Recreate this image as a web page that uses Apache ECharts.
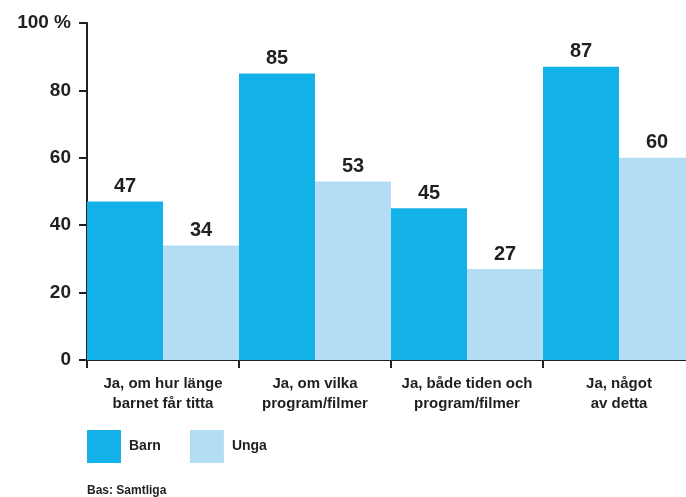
<!DOCTYPE html>
<html>
<head>
<meta charset="utf-8">
<script src="https://cdn.jsdelivr.net/npm/echarts@6/dist/echarts.min.js"></script>
<style>
  html, body { margin: 0; padding: 0; background: #fff; overflow: hidden; }
  /* chart runs a few px past the window edge, as in the original */
  #main { width: 695px; height: 497px; }
</style>
</head>
<body>
<div id="main"></div>
<script>
const categories = [
  "Ja, om hur länge\nbarnet får titta",
  "Ja, om vilka\nprogram/filmer",
  "Ja, både tiden och\nprogram/filmer",
  "Ja, något\nav detta"
];
const barn = [47, 85, 45, 87];
const unga = [34, 53, 27, 60];

const ink = "#231f20";
const font = "Liberation Sans";

const chart = echarts.init(document.getElementById("main"));

const option = {
  animation: false,
  textStyle: { fontFamily: font },
  grid: { left: 87, top: 23, right: 0, bottom: 137 },
  legend: {
    left: 82,
    top: 425,
    itemWidth: 34,
    itemHeight: 33,
    itemGap: 29,
    icon: "rect",
    textStyle: { fontFamily: font, fontWeight: "bold", fontSize: 14, color: ink, padding: [0, 0, 0, 3] },
    data: ["Barn", "Unga"]
  },
  graphic: [
    {
      type: "text",
      left: 87,
      top: 485,
      style: { text: "Bas: Samtliga", font: "bold 12px " + font, fill: ink }
    }
  ],
  xAxis: {
    type: "category",
    data: categories,
    axisLine: { lineStyle: { color: ink, width: 2 } },
    axisTick: { show: true, length: 8, lineStyle: { color: ink, width: 2 } },
    axisLabel: {
      interval: 0,
      margin: 14,
      fontFamily: font,
      fontWeight: "bold",
      fontSize: 15,
      lineHeight: 20,
      color: ink
    }
  },
  yAxis: {
    type: "value",
    min: 0,
    max: 100,
    interval: 20,
    axisLine: { show: true, lineStyle: { color: ink, width: 2 } },
    axisTick: { show: true, length: 8, lineStyle: { color: ink, width: 2 } },
    splitLine: { show: false },
    axisLabel: {
      margin: 16,
      fontFamily: font,
      fontWeight: "bold",
      fontSize: 19,
      color: ink,
      formatter: v => (v === 100 ? "100 %" : String(v))
    }
  },
  series: [
    {
      name: "Barn",
      type: "bar",
      data: barn,
      barGap: "0%",
      barCategoryGap: "0%",
      itemStyle: { color: "#12b2e8" },
      label: { show: true, position: "top", distance: 5, fontFamily: font, fontWeight: "bold", fontSize: 20, color: ink }
    },
    {
      name: "Unga",
      type: "bar",
      data: unga,
      barGap: "0%",
      barCategoryGap: "0%",
      itemStyle: { color: "#b3dcf5" },
      label: { show: true, position: "top", distance: 5, fontFamily: font, fontWeight: "bold", fontSize: 20, color: ink }
    }
  ]
};

chart.setOption(option);
</script>
</body>
</html>
